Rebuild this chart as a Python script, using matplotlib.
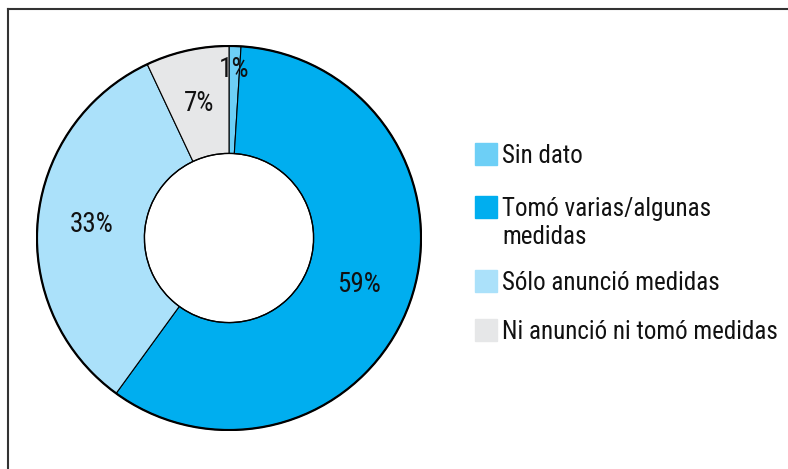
import matplotlib.pyplot as plt
import numpy as np

# Values
categories = ["Sin dato", "Tomó varias/algunas\nmedidas", "Sólo anunció medidas", "Ni anunció ni tomó medidas"]
shares = [1, 59, 33, 7]
colors = ["#6dcff6", "#00aeef", "#abe1fa", "#e6e7e8"]
label_radius = [0.88, 0.72, 0.72, 0.72]

W, H = 788, 469
fig = plt.figure(figsize=(W / 100, H / 100), dpi=100)
fig.patch.set_facecolor("white")
font = ["Roboto Condensed", "Archivo Narrow", "DejaVu Sans"]

# Donut: centre (229, 238) px, radius 193 px
cx, cy, r = 229, 238, 193
ax = fig.add_axes([(cx - r) / W, (H - cy - r) / H, 2 * r / W, 2 * r / H])
wedges, _ = ax.pie(
    shares, colors=colors, startangle=90, counterclock=False, radius=1,
    wedgeprops=dict(width=1 - 85 / 193, edgecolor="black", linewidth=0.8),
)
# heavier outer rim
ax.add_patch(plt.Circle((0, 0), 1, fill=False, color="black", lw=1.6))
ax.add_patch(plt.Circle((0, 0), 85 / 193, fill=False, color="black", lw=1.0))
ax.set_xlim(-1.005, 1.005)
ax.set_ylim(-1.005, 1.005)
ax.set_aspect("equal")
ax.axis("off")

for w, v, lr in zip(wedges, shares, label_radius):
    mid = np.deg2rad((w.theta1 + w.theta2) / 2)
    ax.text(lr * np.cos(mid), lr * np.sin(mid), f"{v}%", ha="center", va="center",
            fontsize=19.5, family=font, color="#111111")

# Legend (square centres in px; text baselines 9 px below centre, 28 px line step)
leg_y = [154, 207, 281, 330]
for y, c, lab in zip(leg_y, colors, categories):
    fig.patches.append(plt.Rectangle((475 / W, 1 - (y + 11) / H), 22 / W, 22 / H,
                                     transform=fig.transFigure, color=c))
    for k, line in enumerate(lab.split("\n")):
        fig.text(502 / W, 1 - (y + 9 + 28 * k) / H, line, ha="left", va="baseline",
                 fontsize=18, family=font, color="#111111")

# Frame lines (top and left)
fig.add_artist(plt.Line2D([8 / W, 1], [1 - 9 / H, 1 - 9 / H], color="#333333", lw=1.5))
fig.add_artist(plt.Line2D([8 / W, 8 / W], [0, 1 - 9 / H], color="#333333", lw=1.5))

fig.savefig("out.png", dpi=100)
